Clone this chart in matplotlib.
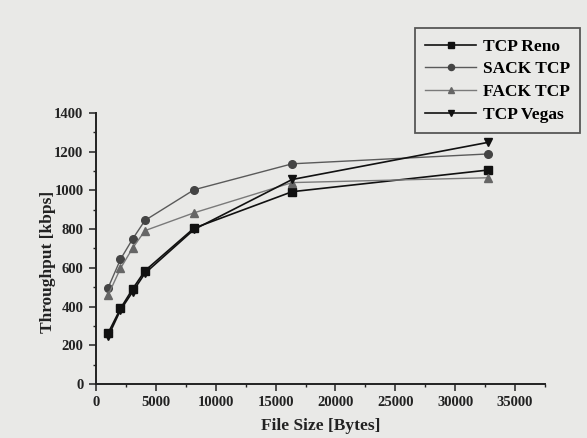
import matplotlib
matplotlib.use("Agg")
import matplotlib.pyplot as plt
from matplotlib.ticker import MultipleLocator

file_sizes = [1024, 2048, 3072, 4096, 8192, 16384, 32768]
reno = [264, 390, 492, 585, 805, 993, 1105]
sack = [498, 644, 750, 845, 1003, 1137, 1188]
fack = [460, 597, 703, 792, 884, 1040, 1065]
vegas = [246, 382, 477, 572, 798, 1056, 1248]
labels = ["TCP Reno", "SACK TCP", "FACK TCP", "TCP Vegas"]

bg = "#e9e9e7"
plt.rcParams["font.family"] = ["Liberation Serif", "DejaVu Serif"]
fig = plt.figure(figsize=(5.87, 4.38), dpi=100, facecolor=bg)
ax = fig.add_axes([0.1635, 0.1233, 0.765, 0.619], facecolor=bg)

h1, = ax.plot(file_sizes, reno, color="#111111", lw=1.2, marker="s", ms=5.5, label=labels[0])
h2, = ax.plot(file_sizes, sack, color="#5a5a5a", lw=1.0, marker="o", ms=5.5,
              mfc="#444444", mec="#444444", label=labels[1])
h3, = ax.plot(file_sizes, fack, color="#7a7a7a", lw=1.0, marker="^", ms=5.5,
              mfc="#666666", mec="#666666", label=labels[2])
h4, = ax.plot(file_sizes, vegas, color="#111111", lw=1.2, marker="v", ms=5.5, label=labels[3])

ax.set_xlim(0, 37500)
ax.set_ylim(0, 1400)
ax.xaxis.set_major_locator(MultipleLocator(5000))
ax.xaxis.set_minor_locator(MultipleLocator(2500))
ax.yaxis.set_major_locator(MultipleLocator(200))
ax.yaxis.set_minor_locator(MultipleLocator(100))
for s in ["top", "right"]:
    ax.spines[s].set_visible(False)
for s in ["left", "bottom"]:
    ax.spines[s].set_linewidth(1.4)
    ax.spines[s].set_color("#222222")
ax.tick_params(which="major", direction="out", length=5, width=1.1, pad=4,
               labelsize=10.5, colors="#222222")
ax.tick_params(which="minor", direction="out", length=2.5, width=1.0, colors="#222222")
for t in ax.get_xticklabels() + ax.get_yticklabels():
    t.set_fontweight("bold")

ax.set_xlabel("File Size [Bytes]", fontsize=12.5, fontweight="bold", color="#222222", labelpad=6)
ax.set_ylabel("Throughput [kbps]", fontsize=12.5, fontweight="bold", color="#222222")
ax.yaxis.set_label_coords(-0.09, 0.45)

leg = fig.legend(handles=[h1, h2, h3, h4], loc="upper left",
                 bbox_to_anchor=(0.707, 0.936), prop={"weight": "bold", "size": 12.5},
                 frameon=True, fancybox=False, edgecolor="#333333", facecolor=bg,
                 handlelength=2.9, handletextpad=0.4, borderpad=0.6, labelspacing=0.38,
                 markerscale=0.8, borderaxespad=0)
leg.get_frame().set_linewidth(1.3)

fig.savefig("out.png", dpi=100, facecolor=bg)
